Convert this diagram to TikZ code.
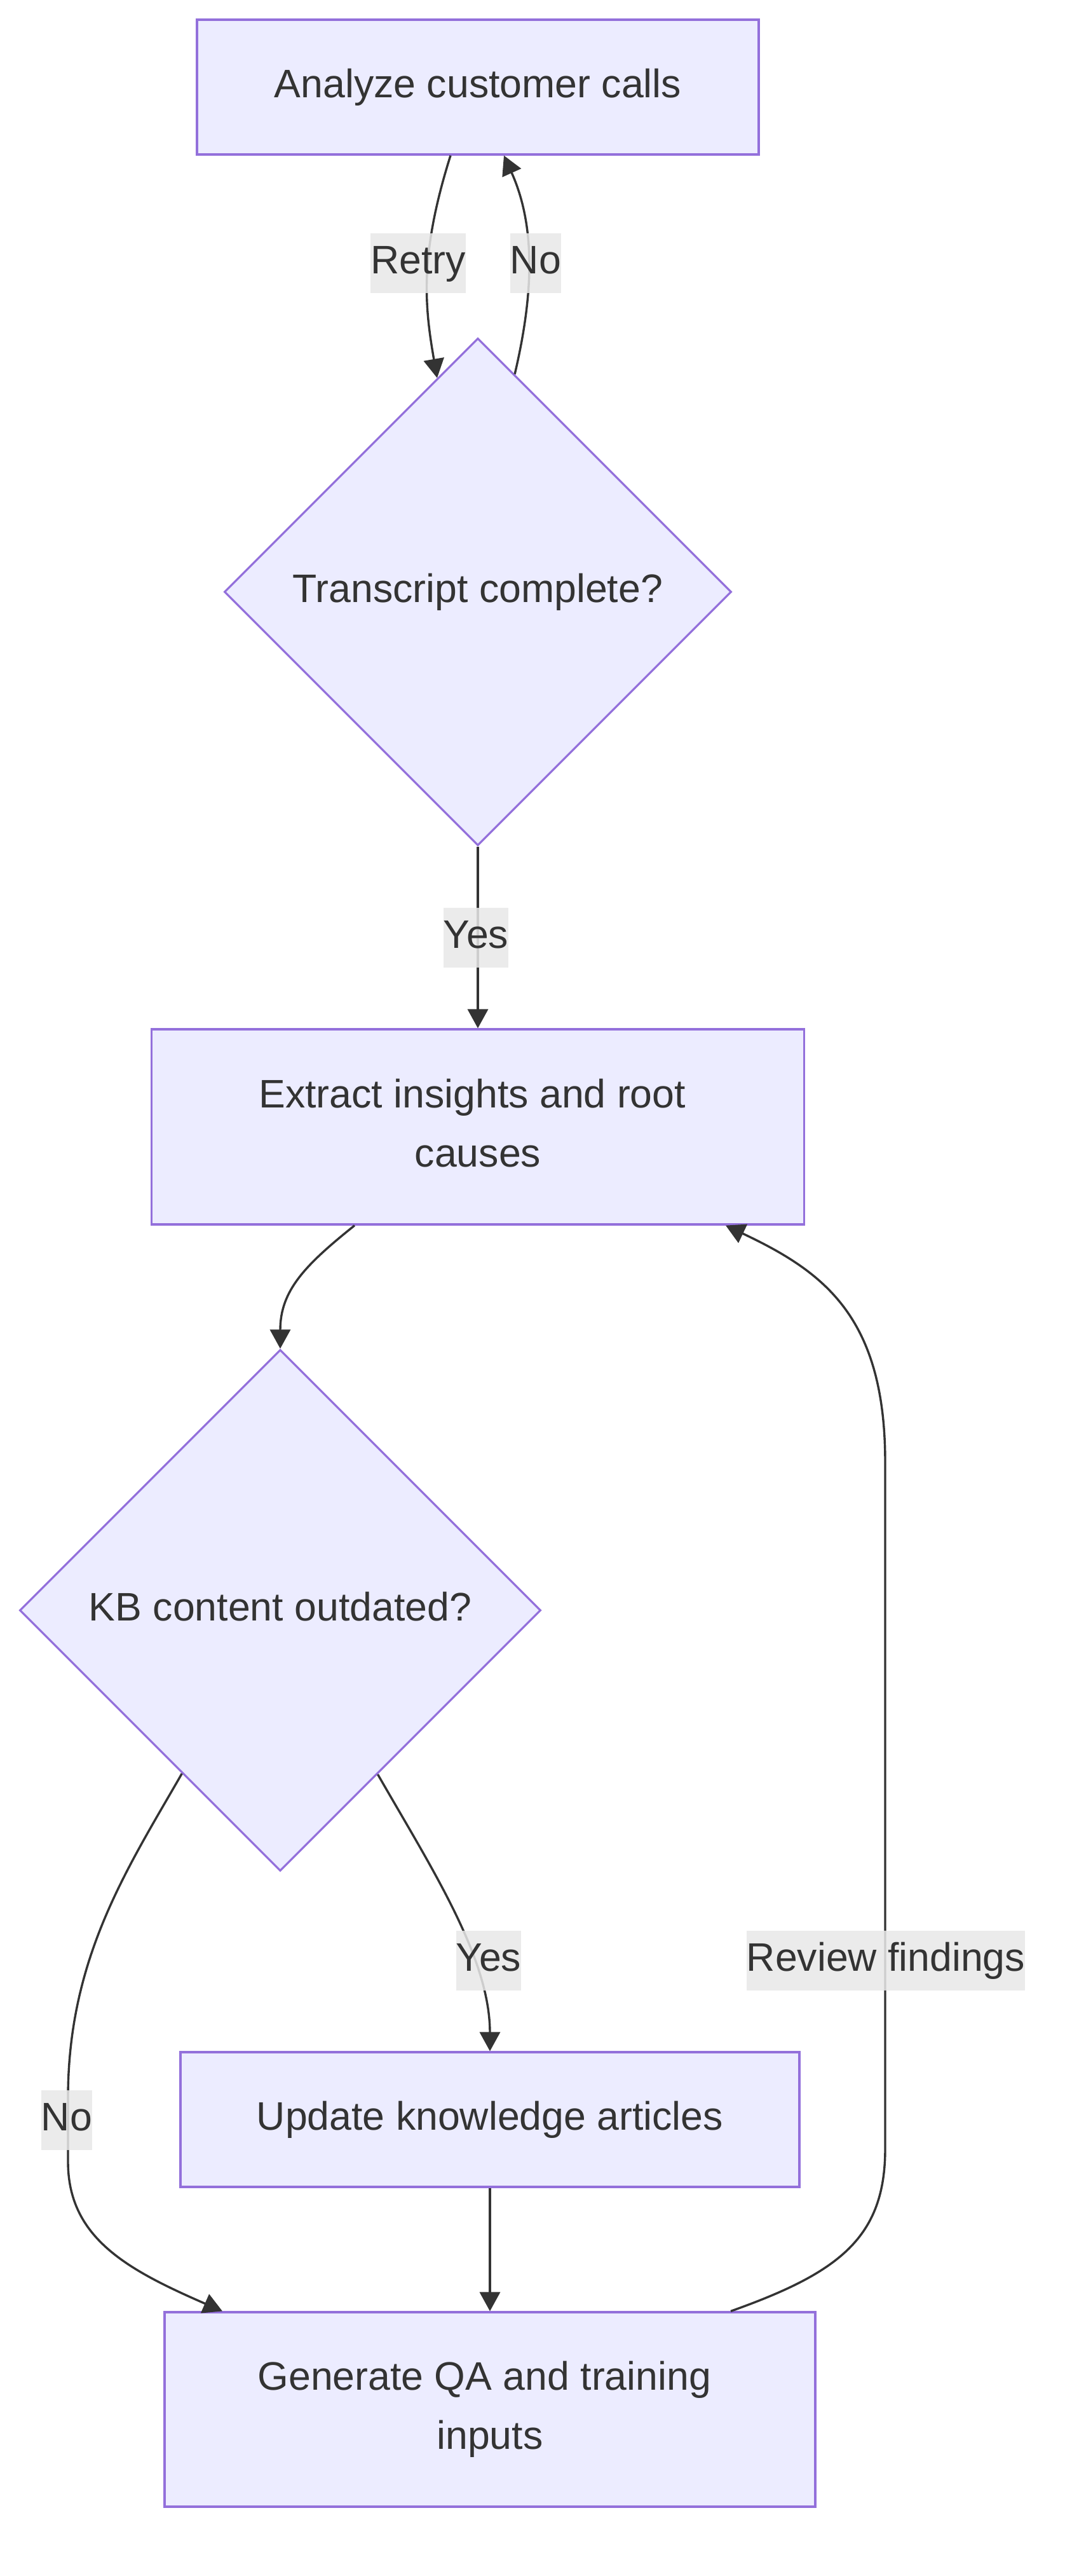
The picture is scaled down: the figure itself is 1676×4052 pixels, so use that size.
\documentclass[tikz,border=0pt]{standalone}
\usepackage{fontspec}
\setmainfont{Liberation Sans}
\usetikzlibrary{shapes.geometric,arrows.meta,calc}
\definecolor{nodefill}{HTML}{ECECFF}
\definecolor{nodeline}{HTML}{9370DB}
\definecolor{ink}{HTML}{333333}
\definecolor{lblbg}{HTML}{E8E8E8}
\begin{document}
\begin{tikzpicture}[x=0.25pt,y=-0.25pt,
  base/.style={draw=nodeline, line width=0.8pt, fill=nodefill, text=ink, inner sep=0pt,
    font=\fontsize{15.65pt}{23.3pt}\selectfont, align=center},
  procbox/.style={base, rectangle},
  decision/.style={base, diamond, aspect=1},
  lbl/.style={fill=lblbg, fill opacity=0.85, text opacity=1, text=ink, inner xsep=0pt, inner ysep=0pt,
    minimum height=23.3pt, text height=11.4pt, text depth=3.4pt,
    font=\fontsize{15.65pt}{23.3pt}\selectfont},
  link/.style={draw=ink, line width=0.85pt, -{Triangle[length=7.5pt,width=8pt]}}
]
\fill[white] (0,0) rectangle (1676,4052);
\useasboundingbox (0,0) rectangle (1676,4052);

% nodes
\node[procbox, minimum width=221pt, minimum height=53pt] (A) at (752,137) {Analyze customer calls};
\node[decision, minimum width=199.5pt, minimum height=199.5pt] (D1) at (752,931) {Transcript complete?};
\node[procbox, minimum width=256.75pt, minimum height=76.75pt] (B) at (752,1772.5) {Extract insights and root\hspace*{0.278em}\\causes\vphantom{y}};
\node[decision, minimum width=205pt, minimum height=205pt] (D2) at (441,2533) {KB content outdated?\vphantom{y}};
\node[procbox, minimum width=243.5pt, minimum height=53pt] (C) at (771,3334) {Update knowledge articles};
\node[procbox, minimum width=256pt, minimum height=76.5pt] (D) at (771,3790) {Generate QA and training\hspace*{0.278em}\\inputs};

% connectors
\draw[link] ($(A.south)+(-43,0)$) .. controls (660,400) and (668,480) .. ($(D1.north)!0.16!(D1.west)$);
\draw[link] ($(D1.north)!0.145!(D1.east)$) .. controls (838,470) and (845,360) .. ($(A.south)+(41,0)$);
\draw[link] (D1.south) -- (B.north);
\draw[link] ($(B.south)+(-194,0)$) .. controls (480,1990) and (441,2030) .. (D2.north);
\draw[link] ($(D2.east)!0.627!(D2.south)$) .. controls (680,2940) and (771,3080) .. (C.north);
\draw[link] ($(D2.west)!0.624!(D2.south)$) .. controls (200,2940) and (107,3080) .. (107,3300)
  -- (107,3400) .. controls (107,3520) and (200,3570) .. ($(D.north)+(-421,0)$);
\draw[link] (C.south) -- (D.north);
\draw[link] ($(D.north)+(379,0)$) .. controls (1320,3575) and (1393,3520) .. (1393,3380)
  -- (1393,2300) .. controls (1393,2070) and (1295,2000) .. ($(B.south)+(390,0)$);

% edge labels
\node[lbl] (lRetry) at (658,414) {Retry};
\node[lbl] (lNoA) at (843,414) {No};
\node[lbl] (lYesA) at (749,1475) {Yes};
\node[lbl] (lYesB) at (769,3084) {Yes};
\node[lbl] (lReview) at (1394,3084) {Review findings};
\node[lbl] (lNoB) at (105,3335) {No};
\end{tikzpicture}
\end{document}
